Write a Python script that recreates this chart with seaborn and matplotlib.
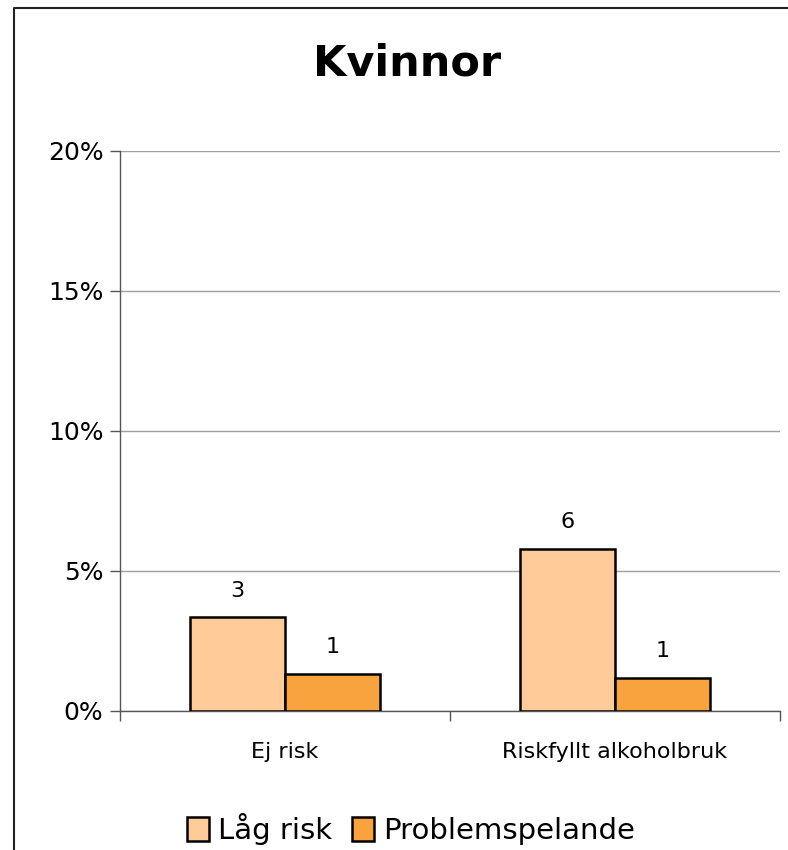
import matplotlib
matplotlib.use("Agg")
import matplotlib.pyplot as plt
import pandas as pd
import seaborn as sns
from matplotlib.lines import Line2D
from matplotlib.ticker import FixedLocator, PercentFormatter

TITLE = "Kvinnor"
CATEGORIES = ["Ej risk", "Riskfyllt alkoholbruk"]
SERIES = ["Låg risk", "Problemspelande"]
LAG_RISK = [3.35, 5.8]
PROBLEM = [1.32, 1.18]
LAG_RISK_N = [3, 6]
PROBLEM_N = [1, 1]
COLORS = ["#FFCC99", "#F9A33E"]
Y_TICKS = [0, 5, 10, 15, 20]


def main() -> None:
    df = pd.DataFrame(
        {
            "kategori": CATEGORIES * 2,
            "grupp": [SERIES[0]] * 2 + [SERIES[1]] * 2,
            "andel": LAG_RISK + PROBLEM,
        }
    )

    sns.set_theme(style="white")
    plt.rcParams["font.family"] = ["DejaVu Sans"]
    plt.rcParams["text.color"] = "black"
    plt.rcParams["xtick.color"] = "black"
    plt.rcParams["ytick.color"] = "black"

    fig = plt.figure(figsize=(7.88, 8.5), dpi=100)
    ax = fig.add_axes([120 / 788, 1 - 711 / 850, 660 / 788, 560 / 850])

    sns.barplot(
        data=df, x="kategori", y="andel", hue="grupp", hue_order=SERIES,
        order=CATEGORIES, palette=COLORS, width=0.576, edgecolor="black",
        linewidth=1.8, saturation=1, ax=ax, zorder=3,
    )

    for container, counts in zip(ax.containers, [LAG_RISK_N, PROBLEM_N]):
        ax.bar_label(container, labels=[str(c) for c in counts], padding=12,
                     fontsize=16, color="black")

    ax.set_xlim(-0.5, 1.5)
    ax.set_ylim(0, 20)
    ax.yaxis.set_major_locator(FixedLocator(Y_TICKS))
    ax.yaxis.set_major_formatter(PercentFormatter(decimals=0))
    ax.grid(axis="y", color="#a0a0a0", linewidth=1.0, zorder=0)
    ax.set_axisbelow(True)

    for side in ["top", "right"]:
        ax.spines[side].set_visible(False)
    for side in ["left", "bottom"]:
        ax.spines[side].set_color("#555555")
        ax.spines[side].set_linewidth(1.0)

    ax.tick_params(axis="y", direction="out", length=7, width=1,
                   color="#555555", labelcolor="black", labelsize=18, pad=5,
                   left=True)
    ax.tick_params(axis="x", which="major", length=0, labelsize=16, pad=22,
                   labelcolor="black")
    ax.xaxis.set_minor_locator(FixedLocator([-0.5, 0.5, 1.5]))
    ax.tick_params(axis="x", which="minor", direction="out", length=7,
                   width=1, color="#555555", bottom=True)
    ax.set_xlabel("")
    ax.set_ylabel("")

    fig.text(407 / 788, 1 - 63 / 850, TITLE, ha="center", va="center",
             fontsize=31, fontweight="bold", color="black")

    handles, labels = ax.get_legend_handles_labels()
    ax.get_legend().remove()
    fig.legend(handles, labels, loc="center", ncol=2, frameon=False,
               bbox_to_anchor=(411 / 788, 1 - 829 / 850), fontsize=21,
               handlelength=0.75, handleheight=0.85, handletextpad=0.3,
               columnspacing=0.7, labelcolor="black")

    fig.add_artist(Line2D([14 / 788, 14 / 788, 1.0],
                          [0.0, 1 - 8 / 850, 1 - 8 / 850],
                          transform=fig.transFigure, color="#222222",
                          linewidth=1.5))

    fig.savefig("out.png", dpi=100)
    plt.close(fig)


if __name__ == "__main__":
    main()
